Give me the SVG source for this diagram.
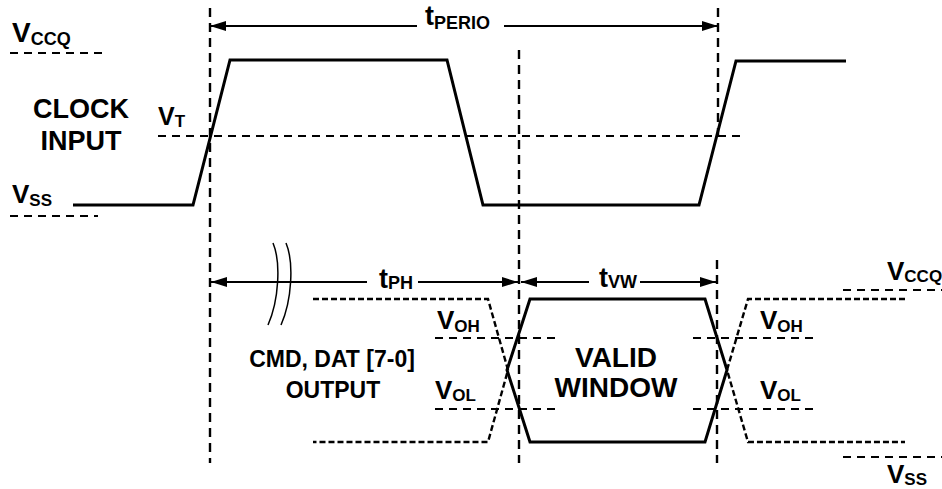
<svg xmlns="http://www.w3.org/2000/svg" width="942" height="489" viewBox="0 0 942 489">
<defs>
<style>
text{font-family:"Liberation Sans",Arial,sans-serif;font-weight:bold;fill:#000}
.big{font-size:28px}
.lbl{font-size:23px}
.v{font-size:26px}
.sub{font-size:17px}
.sig{fill:none;stroke:#000;stroke-width:3;stroke-linejoin:miter}
.lvl{fill:none;stroke:#000;stroke-width:2;stroke-dasharray:8 6}
.vdash{fill:none;stroke:#000;stroke-width:2.4;stroke-dasharray:9 6}
.odash{fill:none;stroke:#000;stroke-width:2.4;stroke-dasharray:6 3}
.dim{fill:none;stroke:#000;stroke-width:2}
.brk{fill:none;stroke:#000;stroke-width:1.5}
</style>
<marker id="ah" viewBox="0 0 16 10" refX="16" refY="5" markerWidth="16" markerHeight="10" markerUnits="userSpaceOnUse" orient="auto-start-reverse">
<path d="M0,0 L16,5 L0,10 Z" fill="#000"/>
</marker>
</defs>
<rect width="942" height="489" fill="#fff"/>

<g id="levels">
<line class="lvl" x1="10" y1="53" x2="108" y2="53"/>
<line class="lvl" x1="10" y1="216" x2="98" y2="216"/>
<line class="lvl" x1="158" y1="136" x2="740" y2="136"/>
<line class="lvl" x1="843" y1="290" x2="942" y2="290"/>
<line class="lvl" x1="843" y1="457" x2="942" y2="457"/>
<line class="lvl" x1="435" y1="338" x2="555" y2="338"/>
<line class="lvl" x1="435" y1="409" x2="555" y2="409"/>
<line class="lvl" x1="693" y1="338" x2="813" y2="338"/>
<line class="lvl" x1="693" y1="409" x2="813" y2="409"/>
</g>

<g id="connectors">
<line class="vdash" x1="210" y1="8" x2="210" y2="463"/>
<line class="vdash" x1="519" y1="50" x2="519" y2="463"/>
<line class="vdash" x1="718" y1="8" x2="718" y2="142"/>
<line class="vdash" x1="717" y1="260" x2="717" y2="463"/>
<line class="dim" x1="417" y1="26" x2="210" y2="26" marker-end="url(#ah)"/>
<line class="dim" x1="504" y1="26" x2="718" y2="26" marker-end="url(#ah)"/>
<line class="dim" x1="367" y1="282" x2="211" y2="282" marker-end="url(#ah)"/>
<line class="dim" x1="418" y1="282" x2="518" y2="282" marker-end="url(#ah)"/>
<line class="dim" x1="589" y1="282" x2="521" y2="282" marker-end="url(#ah)"/>
<line class="dim" x1="640" y1="282" x2="716" y2="282" marker-end="url(#ah)"/>
<path class="brk" d="M273,243 C281,262 279,300 268,325"/>
<path class="brk" d="M286,243 C294,262 292,300 281,325"/>
</g>

<g id="clock">
<path class="sig" d="M73,205 L193,205 L230,60 L447,60 L483,205 L699,205 L736,61 L846,61"/>
</g>

<g id="output">
<path class="odash" d="M313,299 L488,299 L508,370 L488,442 L313,442"/>
<path class="odash" d="M905,299 L748,299 L727,370 L748,442 L905,442"/>
<path class="sig" d="M530,299 L705,299 L727,370 L705,442 L530,442 L507,370 Z"/>
</g>

<g id="labels">
<text class="big" x="12" y="42" style="font-size:28px">V<tspan class="sub" style="font-size:18px" dy="3">CCQ</tspan></text>
<text class="big" x="81" y="118" text-anchor="middle" style="font-size:27px">CLOCK</text>
<text class="big" x="81" y="150" text-anchor="middle" style="font-size:27px">INPUT</text>
<text class="v" x="158" y="125" style="font-size:25px">V<tspan class="sub" dy="2">T</tspan></text>
<text class="v" x="12" y="203">V<tspan class="sub" dy="3">SS</tspan></text>
<text class="v" x="425" y="25" style="font-size:27px">t<tspan class="sub" style="font-size:18px" dy="4">PERIO</tspan></text>
<text class="v" x="379" y="288" style="font-size:27px">t<tspan class="sub" style="font-size:18px" dy="1">PH</tspan></text>
<text class="v" x="599" y="287" style="font-size:27px">t<tspan class="sub" style="font-size:18px" dy="1">VW</tspan></text>
<text class="lbl" x="332" y="367" text-anchor="middle">CMD, DAT [7-0]</text>
<text class="lbl" x="333" y="398" text-anchor="middle">OUTPUT</text>
<text class="v" x="437" y="329">V<tspan class="sub" dy="3">OH</tspan></text>
<text class="v" x="435" y="399">V<tspan class="sub" dy="2">OL</tspan></text>
<text class="v" x="760" y="329">V<tspan class="sub" dy="3">OH</tspan></text>
<text class="v" x="760" y="399">V<tspan class="sub" dy="2">OL</tspan></text>
<text class="big" x="616" y="367" text-anchor="middle">VALID</text>
<text class="big" x="616" y="397" text-anchor="middle">WINDOW</text>
<text class="v" x="887" y="280">V<tspan class="sub" dy="2">CCQ</tspan></text>
<text class="v" x="887" y="483">V<tspan class="sub" dy="2">SS</tspan></text>
</g>
</svg>
